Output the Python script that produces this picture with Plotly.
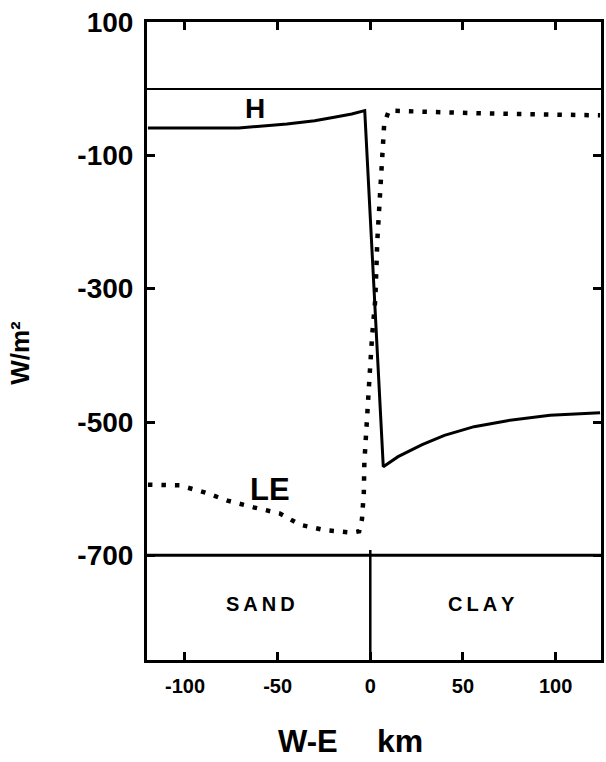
import plotly.graph_objects as go

# ---- data ----
H_km = [-120, -100, -71, -45, -30, -18, -10, -3, 7, 15, 28, 40, 56, 74, 97, 124]
H_flux = [-59, -59, -59, -53, -48, -42, -38, -33, -567, -552, -534, -520, -507, -498, -490, -486]

LE_km = [-120, -103, -89, -77, -63, -49, -38, -25, -10, -6, -4.5, -3.5, -3.2, -2.5, -0.5,
         1, 2.7, 3.8, 5, 6, 7, 7.5, 10, 20, 40, 60, 80, 100, 124]
LE_flux = [-594, -595, -606, -618, -628, -637, -654, -662, -666, -664, -646, -606, -561, -520, -436,
           -370, -316, -227, -170, -123, -77, -53, -33, -34, -36, -37, -38, -39, -40]

y_ticks = [100, -100, -300, -500, -700]
y_tick_text = ["100", "-100", "-300", "-500", "-700"]
x_ticks = [-100, -50, 0, 50, 100]
x_tick_text = ["-100", "-50", "0", "50", "100"]

soil_labels = ["S\u2009A\u2009N\u2009D", "C\u2009L\u2009A\u2009Y"]
soil_label_km = [-59, 60]
soil_label_y = -773
panel_top = -700          # upper edge of the soil strip
soil_boundary_km = 0      # sand / clay boundary
x_range = [-120.5, 124.5]
y_range = [-857, 100]

FONT = "Liberation Sans"

fig = go.Figure()
fig.add_trace(go.Scatter(x=H_km, y=H_flux, mode="lines",
                         line=dict(color="black", width=3), showlegend=False))
fig.add_trace(go.Scatter(x=LE_km, y=LE_flux, mode="lines",
                         line=dict(color="black", width=4.5, dash="4.5px,9px"),
                         showlegend=False))

# soil strip frame
fig.add_shape(type="line", xref="x", yref="y", x0=x_range[0], x1=x_range[1],
              y0=panel_top, y1=panel_top, line=dict(color="black", width=3))
fig.add_shape(type="line", xref="x", yref="y", x0=soil_boundary_km, x1=soil_boundary_km,
              y0=y_range[0], y1=panel_top + 8, line=dict(color="black", width=2.5))

for lab, xk in zip(soil_labels, soil_label_km):
    fig.add_annotation(x=xk, y=soil_label_y, xref="x", yref="y", text=lab, showarrow=False,
                       font=dict(family=FONT, size=20, color="black", weight="bold"))

# curve labels
fig.add_annotation(x=-62, y=-29, xref="x", yref="y", text="H", showarrow=False,
                   font=dict(family=FONT, size=28, color="black", weight="bold"))
fig.add_annotation(x=-54, y=-601, xref="x", yref="y", text="LE", showarrow=False,
                   font=dict(family=FONT, size=31, color="black", weight="bold"))

L, R, T, B = 147, 2, 22, 102
W, Hgt = 606, 762
pw, ph = W - L - R, Hgt - T - B

def px2paper(sx, sy):
    return (sx - L) / pw, (Hgt - B - sy) / ph

ax_, ay_ = px2paper(19, 353)
fig.add_annotation(x=ax_, y=ay_, xref="paper", yref="paper", text="W/m²", showarrow=False,
                   xanchor="center", yanchor="middle", textangle=-90,
                   font=dict(family=FONT, size=26, color="black", weight="bold"))
ax_, ay_ = px2paper(309, 741)
fig.add_annotation(x=ax_, y=ay_, xref="paper", yref="paper", text="W-E", showarrow=False,
                   xanchor="center", yanchor="middle",
                   font=dict(family=FONT, size=31, color="black", weight="bold"))
ax_, ay_ = px2paper(402, 741)
fig.add_annotation(x=ax_, y=ay_, xref="paper", yref="paper", text="km", showarrow=False,
                   xanchor="center", yanchor="middle",
                   font=dict(family=FONT, size=32, color="black", weight="bold"))

fig.update_layout(
    width=W, height=Hgt,
    margin=dict(l=L, r=R, t=T, b=B, pad=0),
    paper_bgcolor="white", plot_bgcolor="white",
    font=dict(family=FONT, color="black"),
    xaxis=dict(range=x_range, tickvals=x_ticks, ticktext=x_tick_text,
               ticks="inside", ticklen=8, tickwidth=2.5, tickcolor="black",
               showline=True, linecolor="black", linewidth=3, mirror="ticks",
               showgrid=False, zeroline=False, ticklabelstandoff=6,
               ticklabeloverflow="allow",
               tickfont=dict(family=FONT, size=20, color="black", weight="bold")),
    yaxis=dict(range=y_range, tickvals=y_ticks, ticktext=y_tick_text,
               ticks="inside", ticklen=8, tickwidth=2.5, tickcolor="black",
               showline=True, linecolor="black", linewidth=3, mirror="ticks",
               showgrid=False, zeroline=True, zerolinecolor="black", zerolinewidth=2,
               ticklabelstandoff=5, ticklabeloverflow="allow",
               tickfont=dict(family=FONT, size=28, color="black", weight="bold")),
)

# remove the default 8px page margin so the figure sits at the window origin
fig.write_html("out.html", config={"displayModeBar": False},
               post_script="document.body.style.margin='0';")
